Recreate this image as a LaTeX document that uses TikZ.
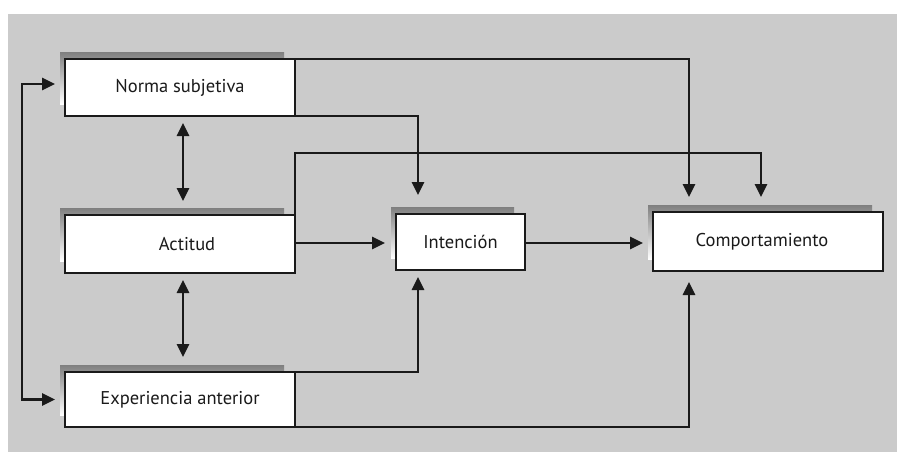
\documentclass[tikz,border=0pt]{standalone}
\usepackage{fontspec}
\setmainfont{PT Sans}
\usetikzlibrary{arrows.meta,calc}
\definecolor{panel}{HTML}{CBCBCB}
\definecolor{shade}{HTML}{4E4E4E}
\definecolor{ink}{HTML}{1A1A1A}
\pgfdeclarelayer{ground}
\pgfdeclarelayer{shadow}
\pgfsetlayers{ground,shadow,main}
\tikzset{
  box/.style={draw=ink, line width=2.6pt, fill=white, inner sep=0pt, outer sep=0pt,
              font=\fontsize{18.5}{22}\selectfont, text=ink},
  link/.style={draw=ink, line width=2.6pt},
  tip/.tip={Triangle[length=13pt,width=12pt]},
  arr/.style={link, -tip},
  biarr/.style={link, tip-tip},
}
% drop shadow offset to the upper left of a box
\newcommand{\boxshade}[1]{%
  \fill[shade] ($(#1.north west)+(-5,-7)$) rectangle ($(#1.south east)+(-11,-12)$);}
\begin{document}
\begin{tikzpicture}[x=1pt,y=-1pt]
\useasboundingbox (0,0) rectangle (905,459);
\begin{pgfonlayer}{ground}
\fill[white] (0,0) rectangle (905,459);
\fill[panel] (8,14) rectangle (897,452);
\end{pgfonlayer}

% boxes
\path (180,87.5) node[box,minimum width=230pt,minimum height=57pt] (N) {Norma subjetiva};
\path (180,244) node[box,minimum width=230pt,minimum height=58pt] (A) {\hspace*{14pt}Actitud};
\path (180,399.5) node[box,minimum width=230pt,minimum height=55pt] (E) {Experiencia anterior};
\path (460.5,242) node[box,minimum width=129pt,minimum height=56pt] (I) {Intención};
\path (768,241.5) node[box,minimum width=230pt,minimum height=59pt] (C) {\hspace*{-12pt}Comportamiento};

\begin{pgfonlayer}{shadow}
\foreach \b in {N,A,E,I,C} {\boxshade{\b}}
\end{pgfonlayer}

% junction points of the routed connectors
\coordinate (xI) at (418,0);
\coordinate (xC1) at (689,0);
\coordinate (xC2) at (761,0);
\coordinate (yTop) at (0,153);
\coordinate (yMid) at (0,243);

% feedback loop on the left
\draw[biarr] ([xshift=-10pt,yshift=3.5pt]N.west) -- ++(-33,0)
  |- ([xshift=-10pt]E.west);

% mutual links between the left-hand boxes
\draw[biarr] ([xshift=3pt,yshift=-7pt]N.south) -- ([xshift=3pt,yshift=14pt]A.north);
\draw[biarr] ([xshift=3pt,yshift=-7pt]A.south) -- ([xshift=3pt,yshift=15pt]E.north);

% main chain
\draw[arr] (A.east |- yMid) -- ([xshift=-11pt]I.west |- yMid);
\draw[arr] (I.east |- yMid) -- ([xshift=-10pt]C.west |- yMid);

% routed links into Intención
\draw[arr] (N.south east) -| ([yshift=19pt]I.north -| xI);
\draw[arr] (E.north east) -| ([yshift=-7pt]I.south -| xI);

% routed links into Comportamiento
\draw[arr] (N.north east) -| ([yshift=15pt]C.north -| xC1);
\draw[arr] (A.north east) |- (yTop -| xC2) -- ([yshift=15pt]C.north -| xC2);
\draw[arr] (E.south east) -| ([yshift=-11pt]C.south -| xC1);
\end{tikzpicture}
\end{document}
